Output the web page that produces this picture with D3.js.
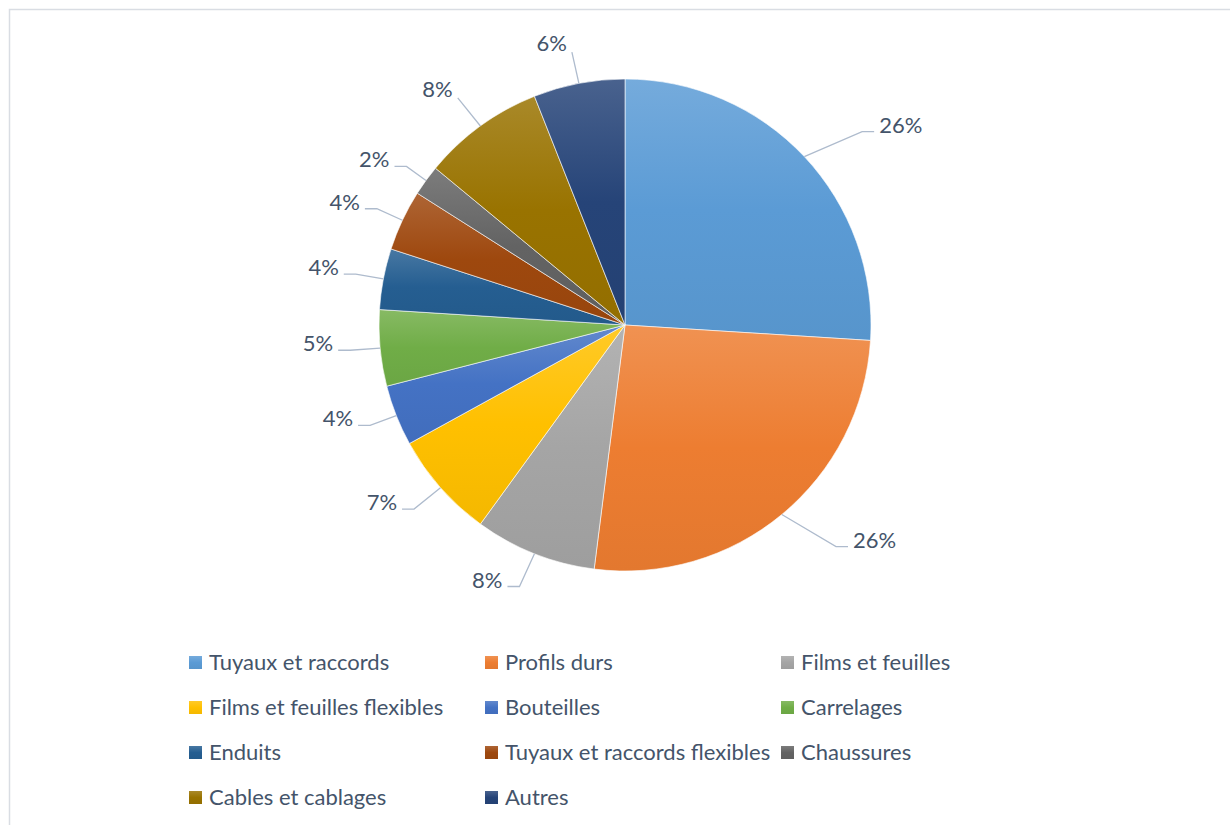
<!DOCTYPE html>
<html>
<head>
<meta charset="utf-8">
<script src="https://cdn.jsdelivr.net/npm/d3@7"></script>
<style>
  html, body { margin: 0; padding: 0; background: #fff; overflow: hidden; }
  svg { display: block; }
</style>
</head>
<body>
<svg id="chart" width="1230" height="825"></svg>
<script>
// Segments of the pie, in drawing order (clockwise from 12 o'clock)
const categories = [
  "Tuyaux et raccords", "Profils durs", "Films et feuilles",
  "Films et feuilles flexibles", "Bouteilles", "Carrelages",
  "Enduits", "Tuyaux et raccords flexibles", "Chaussures",
  "Cables et cablages", "Autres"
];
// Share of each segment, in percent
const shares = [26, 26, 8, 7, 4, 5, 4, 4, 2, 8, 6];
// Base fill of each segment
const palette = [
  "#5B9BD5", "#ED7D31", "#A5A5A5", "#FFC000", "#4472C4", "#70AD47",
  "#255E91", "#9E480E", "#636363", "#997300", "#264478"
];

const W = 1230, H = 825;
const cx = 625, cy = 325, radius = 246;
const textColor = "#44546A";
const leaderColor = "#AEBBCD";
const fontFamily = "Lato, 'Open Sans', sans-serif";

const svg = d3.select("#chart");

// Outer frame
svg.append("rect")
  .attr("x", 9.5).attr("y", 9.5)
  .attr("width", W).attr("height", H)
  .attr("fill", "none")
  .attr("stroke", "#D9DDE3")
  .attr("stroke-width", 1.5);

// Vertical gradient per segment: lighter tint at the top, slightly darker at the bottom
const defs = svg.append("defs");
const color = d3.scaleOrdinal().domain(categories).range(palette);
categories.forEach((c, i) => {
  const base = color(c);
  const g = defs.append("linearGradient")
    .attr("id", "grad" + i)
    .attr("x1", 0).attr("y1", 0).attr("x2", 0).attr("y2", 1);
  g.append("stop").attr("offset", "0%").attr("stop-color", d3.interpolateRgb(base, "#ffffff")(0.16));
  g.append("stop").attr("offset", "50%").attr("stop-color", base);
  g.append("stop").attr("offset", "100%").attr("stop-color", d3.color(base).darker(0.12));
});

const data = categories.map((c, i) => ({ category: c, value: shares[i], index: i }));

const pie = d3.pie().sort(null).value(d => d.value);
const arcs = pie(data);
const arc = d3.arc().innerRadius(0).outerRadius(radius);

const g = svg.append("g").attr("transform", `translate(${cx},${cy})`);

g.selectAll("path.slice")
  .data(arcs)
  .join("path")
  .attr("class", "slice")
  .attr("d", arc)
  .attr("fill", d => `url(#grad${d.data.index})`)
  .attr("stroke", "#ffffff")
  .attr("stroke-width", 0.6)
  .attr("stroke-linejoin", "round");

// Data labels with leader lines
const polar = (a, r) => [r * Math.sin(a), -r * Math.cos(a)];
const labels = g.append("g");

arcs.forEach(d => {
  const a = (d.startAngle + d.endAngle) / 2;
  const v = d.data.value;
  const p0 = polar(a, radius);
  const R = radius + Math.min(60, 20 + 2 * v);
  // wide segments push their label a little toward the horizontal
  const toward = Math.sin(a) > 0 ? Math.PI / 2 : 3 * Math.PI / 2;
  const nudge = Math.sign(toward - a) * (4 * Math.PI / 180) * Math.pow(v / 26, 2);
  const p1 = polar(a + nudge, R);
  const nearTop = Math.cos(a) > 0.75;
  let pts, tx, ty, anchor;
  if (nearTop) {
    pts = [p0, p1];
    tx = p1[0] - 5; ty = p1[1] - 1; anchor = "end";
  } else {
    const side = Math.sin(a) > 0 ? 1 : -1;
    const p2 = [p1[0] + side * 12, p1[1]];
    pts = [p0, p1, p2];
    tx = p2[0] + side * 5; ty = p1[1] + 1;
    anchor = side > 0 ? "start" : "end";
  }
  labels.append("path")
    .attr("d", d3.line()(pts))
    .attr("fill", "none")
    .attr("stroke", leaderColor)
    .attr("stroke-width", 1.3);
  labels.append("text")
    .attr("x", tx).attr("y", ty)
    .attr("text-anchor", anchor)
    .attr("fill", textColor)
    .attr("font-family", fontFamily)
    .attr("font-size", 22)
    .text(v + "%");
});

// Legend: three columns, row-major order
const cols = 3;
const colX = d3.scalePoint().domain(d3.range(cols)).range([189, 781]);
const rowY = d3.scaleLinear().domain([0, 1]).range([670, 715]);

const legend = svg.append("g");
const items = legend.selectAll("g.item")
  .data(data)
  .join("g")
  .attr("class", "item")
  .attr("transform", d => `translate(${colX(d.index % cols)},${rowY(Math.floor(d.index / cols))})`);

items.append("rect")
  .attr("x", 0).attr("y", -14)
  .attr("width", 13).attr("height", 13)
  .attr("fill", d => `url(#grad${d.index})`);

items.append("text")
  .attr("x", 20).attr("y", 0)
  .attr("fill", textColor)
  .attr("font-family", fontFamily)
  .attr("font-size", 22)
  .text(d => d.category);
</script>
</body>
</html>
